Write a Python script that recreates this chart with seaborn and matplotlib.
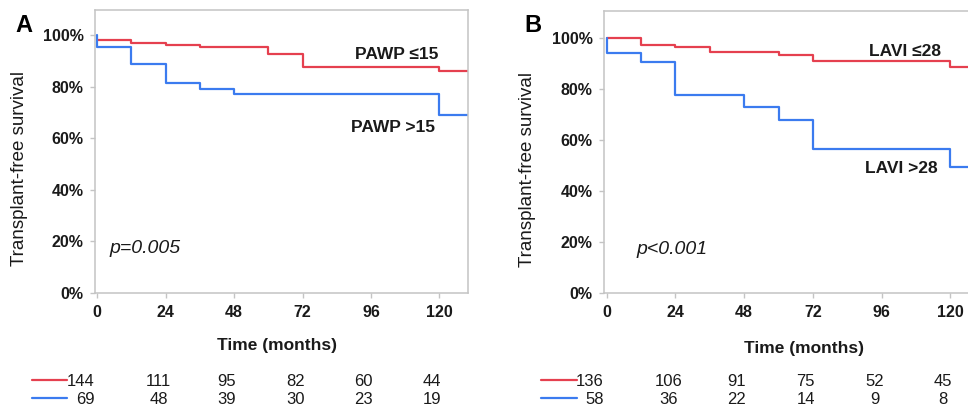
import matplotlib
matplotlib.use("Agg")
import matplotlib.pyplot as plt
import matplotlib.transforms as mtransforms
import pandas as pd
import seaborn as sns

# Panel A: PAWP groups (Kaplan-Meier steps, % surviving)
a_low_time = [0, 12, 24, 36, 60, 72, 120, 130]
a_low_surv = [97.9, 97.0, 96.2, 95.4, 92.5, 87.7, 86.1, 86.1]
a_high_time = [0, 0, 12, 24, 36, 48, 120, 130]
a_high_surv = [100, 95.5, 88.8, 81.4, 79.1, 77.2, 69.0, 69.0]

# Panel B: LAVI groups
b_low_time = [0, 12, 24, 36, 60, 72, 120, 130]
b_low_surv = [100, 97.0, 96.2, 94.5, 93.2, 90.8, 88.4, 88.4]
b_high_time = [0, 0, 12, 24, 48, 60, 72, 120, 130]
b_high_surv = [100, 94.1, 90.4, 77.7, 72.7, 67.9, 56.3, 49.2, 49.2]

# numbers at risk
risk_times = [0, 24, 48, 72, 96, 120]
a_low_risk = [144, 111, 95, 82, 60, 44]
a_high_risk = [69, 48, 39, 30, 23, 19]
b_low_risk = [136, 106, 91, 75, 52, 45]
b_high_risk = [58, 36, 22, 14, 9, 8]

x_ticks = [0, 24, 48, 72, 96, 120]
y_ticks = [0, 20, 40, 60, 80, 100]

RED = "#E5404F"
BLUE = "#3B7BEF"
TXT = "#1a1a1a"
GRID = "#c4c4c4"

sns.set_style("white")
plt.rcParams["font.family"] = ["Liberation Sans", "DejaVu Sans"]


def km_frame(low_t, low_s, high_t, high_s):
    return pd.concat([
        pd.DataFrame({"time": low_t, "surv": low_s, "group": "low"}),
        pd.DataFrame({"time": high_t, "surv": high_s, "group": "high"}),
    ], ignore_index=True)


def draw_panel(fig, ax, df, letter, lab_low, lab_high, pos_low, pos_high, ptext, ppos,
               low_risk, high_risk, ylim_top, xlab_coords, ylab_coords, letter_xy):
    sns.lineplot(data=df, x="time", y="surv", hue="group", palette={"low": RED, "high": BLUE},
                 drawstyle="steps-post", estimator=None, sort=False, legend=False,
                 linewidth=1.6, ax=ax)
    ax.set_xlim(-0.8, 130)
    ax.set_ylim(0, ylim_top)
    ax.set_xticks(x_ticks)
    ax.set_yticks(y_ticks)
    ax.set_xticklabels([str(t) for t in x_ticks], fontweight="bold", fontsize=11.5, color=TXT)
    ax.set_yticklabels([f"{t}%" for t in y_ticks], fontweight="bold", fontsize=11.5, color=TXT)
    ax.tick_params(axis="both", direction="out", length=3.8, width=1, color=GRID, pad=4.5,
                   bottom=True, left=True)
    for sp in ax.spines.values():
        sp.set_color(GRID)
        sp.set_linewidth(1.1)

    ax.set_xlabel("Time (months)", fontsize=12.5, fontweight="bold", color=TXT)
    ax.xaxis.label.set_va("center")
    ax.xaxis.set_label_coords(*xlab_coords)
    ax.set_ylabel("Transplant-free survival", fontsize=13.5, color=TXT)
    ax.yaxis.label.set_va("center")
    ax.yaxis.set_label_coords(*ylab_coords)

    ax.text(pos_low[0], pos_low[1], lab_low, ha="center", va="center",
            fontsize=12.5, fontweight="bold", color=TXT)
    ax.text(pos_high[0], pos_high[1], lab_high, ha="center", va="center",
            fontsize=12.5, fontweight="bold", color=TXT)
    ax.text(ppos[0], ppos[1], ptext, ha="left", va="center", fontsize=14,
            fontstyle="italic", color=TXT)

    fig.text(letter_xy[0], letter_xy[1], letter, ha="center", va="center",
             fontsize=17, fontweight="bold", color="black")

    # numbers-at-risk table under the axis
    trans = mtransforms.blended_transform_factory(ax.transData, fig.transFigure)
    rows = [(low_risk, RED, 0.077), (high_risk, BLUE, 0.032)]
    for values, color, yy in rows:
        ax.plot([-22.8, -10.5], [yy + 0.004, yy + 0.004], color=color, linewidth=1.6,
                transform=trans, clip_on=False)
        for i, (t, v) in enumerate(zip(risk_times, values)):
            if i == 0:
                ax.text(t - 1.0, yy, str(v), ha="right", va="center", fontsize=12,
                        color=TXT, transform=trans)
            else:
                ax.text(t - 2.5, yy, str(v), ha="center", va="center", fontsize=12,
                        color=TXT, transform=trans)


fig = plt.figure(figsize=(9.68, 4.13), dpi=100)
ax_a = fig.add_axes([0.0981, 0.2906, 0.3853, 0.6852])
ax_b = fig.add_axes([0.6243, 0.2898, 0.3871, 0.6836])

draw_panel(fig, ax_a, km_frame(a_low_time, a_low_surv, a_high_time, a_high_surv), "A",
           "PAWP ≤15", "PAWP >15", (105, 92.6), (103.6, 64), "p=0.005", (4.4, 17.1),
           a_low_risk, a_high_risk, 109.7, (0.488, -0.184), (-0.201, 0.441), (0.0248, 0.939))
draw_panel(fig, ax_b, km_frame(b_low_time, b_low_surv, b_high_time, b_high_surv), "B",
           "LAVI ≤28", "LAVI >28", (104.2, 94.4), (102.8, 49), "p<0.001", (10.6, 17),
           b_low_risk, b_high_risk, 110.4, (0.533, -0.197), (-0.206, 0.437), (0.5506, 0.939))

fig.savefig("out.png", dpi=100)
